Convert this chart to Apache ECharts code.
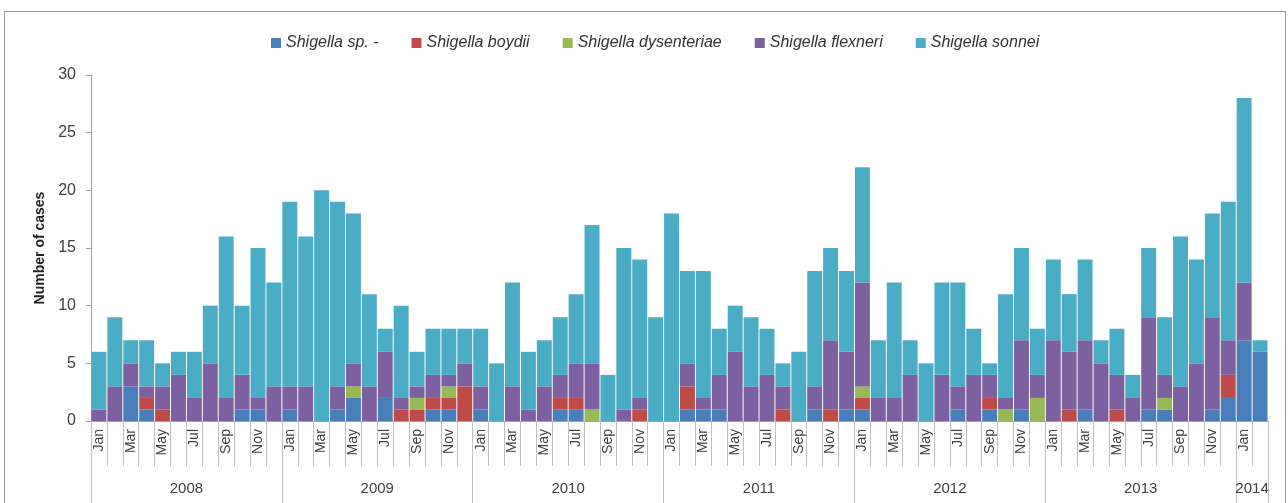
<!DOCTYPE html>
<html>
<head>
<meta charset="utf-8">
<script src="https://cdn.jsdelivr.net/npm/echarts@6/dist/echarts.min.js"></script>
<style>
  html, body { margin: 0; padding: 0; background: #fff; }
  #main { width: 1288px; height: 503px; }
  #frame {
    position: absolute; left: 4px; top: 11px; width: 1280px; height: 520px;
    border: 1px solid #9a9a9a; pointer-events: none;
  }
</style>
</head>
<body>
<div id="main"></div>
<div id="frame"></div>
<script>
// months Jan 2008 .. Feb 2014
var years = ["2008", "2009", "2010", "2011", "2012", "2013", "2014"];
var monthNames = ["Jan", "Feb", "Mar", "Apr", "May", "Jun", "Jul", "Aug", "Sep", "Oct", "Nov", "Dec"];
var monthsInYear = [12, 12, 12, 12, 12, 12, 2];

var spp = [
  0, 0, 3, 1, 0, 0, 0, 0, 0, 1, 1, 0,
  1, 0, 0, 1, 2, 0, 2, 0, 0, 1, 1, 0,
  1, 0, 0, 0, 0, 1, 1, 0, 0, 0, 0, 0,
  0, 1, 1, 1, 0, 0, 0, 0, 0, 1, 0, 1,
  1, 0, 0, 0, 0, 0, 1, 0, 1, 0, 1, 0,
  0, 0, 1, 0, 0, 0, 1, 1, 0, 0, 1, 2,
  7, 6
];
var boydii = [
  0, 0, 0, 1, 1, 0, 0, 0, 0, 0, 0, 0,
  0, 0, 0, 0, 0, 0, 0, 1, 1, 1, 1, 3,
  0, 0, 0, 0, 0, 1, 1, 0, 0, 0, 1, 0,
  0, 2, 0, 0, 0, 0, 0, 1, 0, 0, 1, 0,
  1, 0, 0, 0, 0, 0, 0, 0, 1, 0, 0, 0,
  0, 1, 0, 0, 1, 0, 0, 0, 0, 0, 0, 2,
  0, 0
];
var dysenteriae = [
  0, 0, 0, 0, 0, 0, 0, 0, 0, 0, 0, 0,
  0, 0, 0, 0, 1, 0, 0, 0, 1, 0, 1, 0,
  0, 0, 0, 0, 0, 0, 0, 1, 0, 0, 0, 0,
  0, 0, 0, 0, 0, 0, 0, 0, 0, 0, 0, 0,
  1, 0, 0, 0, 0, 0, 0, 0, 0, 1, 0, 2,
  0, 0, 0, 0, 0, 0, 0, 1, 0, 0, 0, 0,
  0, 0
];
var flexneri = [
  1, 3, 2, 1, 2, 4, 2, 5, 2, 3, 1, 3,
  2, 3, 0, 2, 2, 3, 4, 1, 1, 2, 1, 2,
  2, 0, 3, 1, 3, 2, 3, 4, 0, 1, 1, 0,
  0, 2, 1, 3, 6, 3, 4, 2, 0, 2, 6, 5,
  9, 2, 2, 4, 0, 4, 2, 4, 2, 1, 6, 2,
  7, 5, 6, 5, 3, 2, 8, 2, 3, 5, 8, 3,
  5, 0
];
var sonnei = [
  5, 6, 2, 4, 2, 2, 4, 5, 14, 6, 13, 9,
  16, 13, 20, 16, 13, 8, 2, 8, 3, 4, 4, 3,
  5, 5, 9, 5, 4, 5, 6, 12, 4, 14, 12, 9,
  18, 8, 11, 4, 4, 6, 4, 2, 6, 10, 8, 7,
  10, 5, 10, 3, 5, 8, 9, 4, 1, 9, 8, 4,
  7, 5, 7, 2, 4, 2, 6, 5, 13, 9, 9, 12,
  16, 1
];

var yTicks = [0, 5, 10, 15, 20, 25, 30];

// category keys "2008-Jan" ...
var categories = [];
var yearStart = {};
var yearLabelAt = {};
years.forEach(function (y, yi) {
  yearStart[categories.length] = true;
  yearLabelAt[categories.length + Math.floor(monthsInYear[yi] / 2)] = y;
  for (var m = 0; m < monthsInYear[yi]; m++) {
    categories.push(y + "-" + monthNames[m]);
  }
});

var font = "'Liberation Sans', 'Noto Sans', sans-serif";
var colors = ["#4a7ebb", "#be4b48", "#98b954", "#7d60a0", "#4bacc6"];

var chart = echarts.init(document.getElementById("main"));

function makeSeries(name, data, i) {
  return {
    name: name,
    type: "bar",
    stack: "total",
    data: data,
    barCategoryGap: "6%",
    itemStyle: { color: colors[i] },
    emphasis: { disabled: true },
  };
}

var opt = {
  animation: false,
  textStyle: { fontFamily: font },
  legend: {
    top: 30,
    left: 266,
    icon: "rect",
    itemWidth: 10,
    itemHeight: 10,
    itemGap: 33,
    textStyle: { fontStyle: "italic", fontSize: 16, color: "#333", fontFamily: font },
  },
  grid: { left: 91, right: 20, top: 75, bottom: 82 },
  xAxis: [
    {
      type: "category",
      data: categories,
      position: "bottom",
      axisLine: { show: true, lineStyle: { color: "#a0a0a0" } },
      axisTick: { show: true, interval: 0, length: 45, lineStyle: { color: "#c0c0c0" } },
      axisLabel: {
        interval: 1,
        rotate: 90,
        margin: 8,
        fontSize: 14,
        color: "#404040",
        fontFamily: font,
        formatter: function (v) { return v.split("-")[1]; },
      },
    },
    {
      type: "category",
      data: categories,
      position: "bottom",
      offset: 0,
      axisLine: { show: false },
      axisTick: {
        show: true,
        length: 82,
        interval: function (idx) { return !!yearStart[idx]; },
        lineStyle: { color: "#c0c0c0" },
      },
      axisLabel: {
        margin: 60,
        fontSize: 15,
        color: "#404040",
        fontFamily: font,
        padding: [0, 16, 0, 0],
        interval: function (idx) { return yearLabelAt[idx] !== undefined; },
        formatter: function (v) { return v.split("-")[0]; },
      },
    },
  ],
  yAxis: {
    type: "value",
    min: yTicks[0],
    max: yTicks[yTicks.length - 1],
    interval: 5,
    name: "Number of cases",
    nameLocation: "middle",
    nameGap: 37,
    nameTextStyle: { fontWeight: "bold", fontSize: 14, color: "#222", fontFamily: font },
    axisLine: { show: true, lineStyle: { color: "#a0a0a0" } },
    axisTick: { show: true, length: 5, lineStyle: { color: "#a0a0a0" } },
    axisLabel: { fontSize: 16, color: "#404040", margin: 15, fontFamily: font },
    splitLine: { show: false },
  },
  series: [
    makeSeries("Shigella sp. -", spp, 0),
    makeSeries("Shigella boydii", boydii, 1),
    makeSeries("Shigella dysenteriae", dysenteriae, 2),
    makeSeries("Shigella flexneri", flexneri, 3),
    makeSeries("Shigella sonnei", sonnei, 4),
  ],
};
chart.setOption(opt);
</script>
</body>
</html>
